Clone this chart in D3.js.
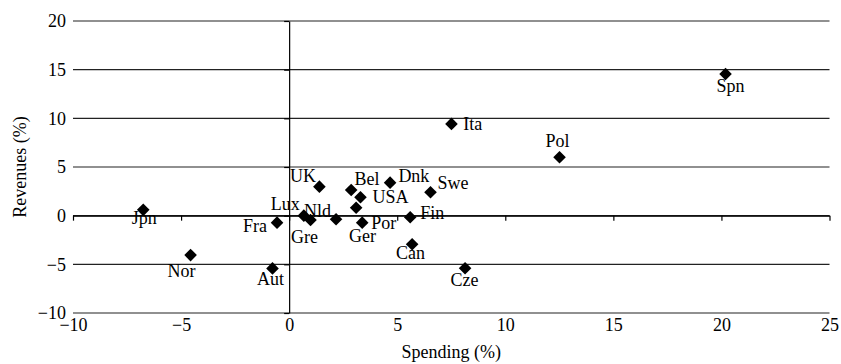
<!DOCTYPE html>
<html>
<head>
<meta charset="utf-8">
<script src="https://cdn.jsdelivr.net/npm/d3@7"></script>
<style>
  body { margin: 0; background: #fff; }
  svg text { font-family: "Liberation Serif", "Times New Roman", Times, "DejaVu Serif", serif !important; font-size: 18px; fill: #000; }
</style>
</head>
<body>
<div id="chart"></div>
<script>
// country codes, spending change (%), revenue change (%)
var countries = ["Jpn", "Nor", "Fra", "Aut", "Lux", "Gre", "Nld", "UK", "Bel", "USA",
                 "Ger", "Por", "Dnk", "Swe", "Fin", "Can", "Cze", "Ita", "Pol", "Spn"];
var spending = [-6.75, -4.56, -0.56, -0.77, 0.68, 0.99, 2.17, 1.40, 2.87, 3.30,
                3.10, 3.38, 4.67, 6.54, 5.60, 5.69, 8.14, 7.51, 12.51, 20.19];
var revenues = [0.60, -4.05, -0.72, -5.42, 0.00, -0.44, -0.37, 2.98, 2.64, 1.89,
                0.82, -0.72, 3.39, 2.40, -0.17, -2.94, -5.41, 9.43, 6.00, 14.56];
var xTicks = [-10, -5, 0, 5, 10, 15, 20, 25];
var yTicks = [-10, -5, 0, 5, 10, 15, 20];

// where each label sits relative to its marker: [dx, dy, anchor]
var labelPos = {
    Jpn: [1, 14, "middle"], Nor: [-9, 22, "middle"], Fra: [-10, 9, "end"],
    Aut: [-2, 17, "middle"], Lux: [-4, -5.5, "end"], Gre: [-6, 23, "middle"],
    Nld: [-5, -2.6, "end"], UK: [-3.3, -5, "end"], Bel: [3.3, -5, "start"],
    USA: [12, 5.7, "start"], Ger: [6.3, 34, "middle"], Por: [9, 6.8, "start"],
    Dnk: [8.3, -1, "start"], Swe: [7, -3.3, "start"], Fin: [10, 1.7, "start"],
    Can: [-1.7, 14.7, "middle"], Cze: [-0.7, 17.7, "middle"], Ita: [11.7, 5.7, "start"],
    Pol: [-2, -10.6, "middle"], Spn: [5, 18.5, "middle"]
};

var points = countries.map((c, i) => ({name: c, x: spending[i], y: revenues[i]}));

var width = 841, height = 364;

var svg = d3.select("#chart")
    .append("svg")
    .attr("width", width)
    .attr("height", height);

var xScale = d3.scaleLinear().domain([-10, 25]).range([73, 829.5]);
var yScale = d3.scaleLinear().domain([-10, 20]).range([313, 21]);

// horizontal gridlines
svg.append("g")
    .selectAll("line")
    .data(yTicks)
    .enter().append("line")
    .attr("x1", xScale(-10))
    .attr("x2", xScale(25))
    .attr("y1", d => yScale(d))
    .attr("y2", d => yScale(d))
    .attr("stroke", "#222")
    .attr("stroke-width", 1.2);

// horizontal axis through y = 0, ticks hanging below
var xAxis = svg.append("g")
    .attr("transform", "translate(0," + yScale(0) + ")")
    .call(d3.axisBottom(xScale).tickValues(xTicks).tickSize(5).tickSizeOuter(0).tickFormat(""));
xAxis.selectAll("path, line").attr("stroke", "#000").attr("stroke-width", 1.2);

// vertical axis through x = 0, ticks pointing left
var yAxis = svg.append("g")
    .attr("transform", "translate(" + xScale(0) + ",0)")
    .call(d3.axisLeft(yScale).tickValues(yTicks).tickSize(5).tickSizeOuter(0).tickFormat(""));
yAxis.selectAll("path, line").attr("stroke", "#000").attr("stroke-width", 1.2);

// tick labels along the bottom and the left
var xLabels = svg.append("g")
    .attr("transform", "translate(0," + yScale(-10) + ")")
    .call(d3.axisBottom(xScale).tickValues(xTicks).tickSize(0).tickPadding(5));
xLabels.select(".domain").remove();
xLabels.attr("font-family", null).attr("font-size", null);

var yLabels = svg.append("g")
    .attr("transform", "translate(" + xScale(-10) + ",0)")
    .call(d3.axisLeft(yScale).tickValues(yTicks).tickSize(0).tickPadding(7));
yLabels.select(".domain").remove();
yLabels.attr("font-family", null).attr("font-size", null);

// axis titles
svg.append("text")
    .attr("transform", "rotate(-90)")
    .attr("x", -167)
    .attr("y", 26)
    .style("text-anchor", "middle")
    .text("Revenues (%)");

svg.append("text")
    .attr("x", (xScale(-10) + xScale(25)) / 2)
    .attr("y", 358)
    .style("text-anchor", "middle")
    .text("Spending (%)");

// diamond markers
var diamond = "M0,-6.3L6.3,0L0,6.3L-6.3,0Z";
svg.selectAll(".dot")
    .data(points)
    .enter().append("path")
    .attr("class", "dot")
    .attr("d", diamond)
    .attr("transform", d => "translate(" + xScale(d.x) + "," + yScale(d.y) + ")")
    .attr("fill", "#000");

svg.selectAll(".lbl")
    .data(points)
    .enter().append("text")
    .attr("class", "lbl")
    .attr("x", d => xScale(d.x) + labelPos[d.name][0])
    .attr("y", d => yScale(d.y) + labelPos[d.name][1])
    .style("text-anchor", d => labelPos[d.name][2])
    .text(d => d.name);
</script>
</body>
</html>
